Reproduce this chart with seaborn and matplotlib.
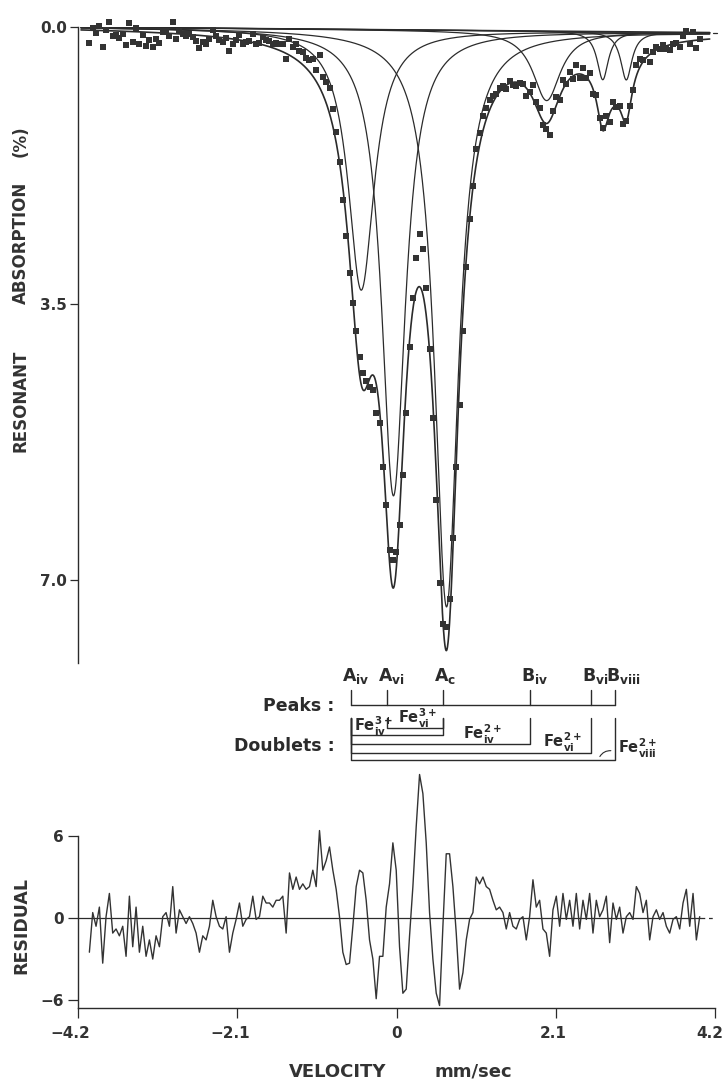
import numpy as np
import matplotlib
matplotlib.use("Agg")
import matplotlib.pyplot as plt
import matplotlib.transforms as mtransforms
import seaborn as sns

# ---------------------------------------------------------------------------
# Spectrum data
# ---------------------------------------------------------------------------
# Channel velocities (mm/s): first channel and channel spacing
channel_start = -4.05
channel_step = 0.04398

# Fit residual at each channel
residual = [
    -2.5, 0.4, -0.6, 0.8, -3.3, 0.1, 1.8, -1.1, -0.8, -1.3, -0.6,
    -2.8, 1.6, -2.1, 0.8, -2.5, -0.6, -2.8, -1.6, -3.0, -1.3,
    -2.1, 0.1, 0.4, -0.6, 2.3, -1.1, 0.6, 0.1, -0.4, 0.1,
    -0.4, -1.1, -2.5, -1.3, -1.6, -0.6, 1.3, 0.1, -0.6, -0.8,
    0.1, -2.5, -1.1, -0.1, 1.1, -0.6, -0.1, 0.1, 1.6, -0.1,
    0.1, 1.6, 1.1, 1.1, 0.8, 1.3, 1.3, 1.6, -1.1, 3.3,
    2.1, 3.0, 2.1, 2.5, 2.1, 2.3, 3.5, 2.3, 6.4, 3.5,
    4.2, 5.2, 3.5, 2.1, 0.1, -2.5, -3.4, -3.3, -0.6, 2.3,
    3.5, 3.3, 1.3, -1.6, -3.0, -5.9, -2.8, -2.8, 0.8, 2.5, 5.5,
    3.5, -2.1, -5.5, -5.2, -1.3, 2.3, 6.7, 10.5, 9.1, 5.5,
    0.4, -3.0, -5.5, -6.4, -0.6, 4.7, 4.7, 2.3, -1.1, -5.2,
    -4.0, -1.6, -0.1, 0.4, 3.0, 2.5, 3.0, 2.3, 2.1, 1.3,
    0.6, 0.8, 0.4, -0.8, 0.4, -0.6, -0.8, -0.1, 0.1, -1.6,
    0.1, 2.8, 0.8, 1.3, -0.8, -1.1, -2.8, 0.6, 1.6, -0.6,
    1.8, -0.1, 1.3, -0.6, 1.8, -0.8, 1.3, -0.1, 1.8, -1.1,
    1.3, 0.1, 0.6, 1.6, -1.8, 1.1, -0.1, 0.8, -1.1, 0.1,
    0.4, -0.1, 2.3, 1.8, 0.4, 1.3, -1.6, 0.1, 0.6, -0.1,
    0.4, -0.6, -1.1, -0.1, 0.1, -0.8, 1.1, 2.1, -0.6, 1.8,
    -1.6, 0.1,
]
# absorption (%) per residual unit
residual_scale = 0.063

# Fitted Lorentzian lines (drawn individually)
line_center = [-0.465, -0.04, 0.66, 1.98, 2.72, 3.03]
line_depth = [3.30, 5.90, 7.30, 0.88, 0.61, 0.61]
line_hwhm = [0.21, 0.19, 0.19, 0.22, 0.09, 0.09]
# Broad underlying absorption included in the total fit
broad_center = [2.85]
broad_depth = [0.50]
broad_hwhm = [0.30]
# Sloping baseline: absorption at the two ends of the velocity scale
baseline_ends = [0.0, 0.07]

# Peak / doublet assignment scheme
peak_labels = [r"$\mathbf{A}_{\mathbf{iv}}$", r"$\mathbf{A}_{\mathbf{vi}}$",
               r"$\mathbf{A}_{\mathbf{c}}$", r"$\mathbf{B}_{\mathbf{iv}}$",
               r"$\mathbf{B}_{\mathbf{vi}}$", r"$\mathbf{B}_{\mathbf{viii}}$"]
peak_velocity = [-0.594, -0.119, 0.607, 1.755, 2.559, 2.876]
doublet_labels = [r"$\mathbf{Fe}^{\mathbf{3+}}_{\mathbf{vi}}$",
                  r"$\mathbf{Fe}^{\mathbf{3+}}_{\mathbf{iv}}$",
                  r"$\mathbf{Fe}^{\mathbf{2+}}_{\mathbf{iv}}$",
                  r"$\mathbf{Fe}^{\mathbf{2+}}_{\mathbf{vi}}$",
                  r"$\mathbf{Fe}^{\mathbf{2+}}_{\mathbf{viii}}$"]
doublet_low = [1, 0, 0, 0, 0]     # index into peak_velocity
doublet_high = [2, 2, 3, 4, 5]

# Axis ticks
absorption_ticks = [0.0, 3.5, 7.0]
absorption_ticklabels = ["0.0", "3.5", "7.0"]
residual_ticks = [-6, 0, 6]
residual_ticklabels = ["\u22126", "0", "6"]
velocity_ticks = [-4.2, -2.1, 0.0, 2.1, 4.2]
velocity_ticklabels = ["\u22124.2", "\u22122.1", "0", "2.1", "4.2"]

# ---------------------------------------------------------------------------
sns.set_theme(style="white")
plt.rcParams["font.family"] = ["DejaVu Sans"]
plt.rcParams["mathtext.fontset"] = "dejavusans"
ink = "#2b2b2b"

W, H = 726, 1082
fig = plt.figure(figsize=(W / 100, H / 100), dpi=100)
fig.patch.set_facecolor("white")


def box(x0, y0, x1, y1):
    return [x0 / W, 1 - y1 / H, (x1 - x0) / W, (y1 - y0) / H]


def lorentz(v, c, d, g):
    return d / (1.0 + ((v - c) / g) ** 2)


def baseline(v):
    return baseline_ends[0] + (baseline_ends[1] - baseline_ends[0]) * (v + 4.2) / 8.4


ax = fig.add_axes(box(78, 27, 715, 663))
ax_s = fig.add_axes(box(78, 660, 715, 775))
ax_r = fig.add_axes(box(78, 760, 715, 1008))
for a in (ax, ax_s, ax_r):
    a.set_facecolor("none")

channel_v = channel_start + channel_step * np.arange(len(residual))
res = np.array(residual)

vv = np.linspace(-4.16, 4.13, 3000)
base = baseline(vv)
all_c = line_center + broad_center
all_d = line_depth + broad_depth
all_g = line_hwhm + broad_hwhm
total = base.copy()
for c, d, g in zip(all_c, all_d, all_g):
    total += lorentz(vv, c, d, g)

total_ch = baseline(channel_v)
for c, d, g in zip(all_c, all_d, all_g):
    total_ch += lorentz(channel_v, c, d, g)
observed = total_ch - residual_scale * res

# ---------------- absorption spectrum ----------------
sns.lineplot(x=vv, y=base, ax=ax, color=ink, linewidth=1.1, sort=False)
for c, d, g in zip(line_center, line_depth, line_hwhm):
    sns.lineplot(x=vv, y=base + lorentz(vv, c, d, g), ax=ax, color=ink,
                 linewidth=0.9, sort=False)
sns.lineplot(x=vv, y=total, ax=ax, color=ink, linewidth=1.2, sort=False)
sns.scatterplot(x=channel_v, y=observed, ax=ax, marker="s", s=15, color="#333333",
                edgecolor="#333333", linewidth=0, clip_on=False, zorder=5)
ax.plot([4.17, 4.23], [baseline(4.2), baseline(4.2)], color=ink, lw=0.9,
        clip_on=False)

ax.set_xlim(-4.2, 4.2)
ax.set_ylim(8.05, 0.0)
sns.despine(ax=ax, bottom=True)
ax.spines["left"].set_bounds(0.0, 8.05)
ax.spines["left"].set_color(ink)
ax.spines["left"].set_linewidth(1.0)
ax.set_xticks([])
ax.set_yticks(absorption_ticks)
ax.set_yticklabels(absorption_ticklabels, fontweight="bold", fontsize=11, color="#333333")
ax.tick_params(axis="y", direction="out", length=6, width=0.9, pad=2, color=ink, left=True)
ax.set_xlabel("")
ax.set_ylabel("")

# ---------------- peak / doublet scheme (pixel rows) ----------------
px = 1.0 / 75.8   # mm/s per pixel
ax_s.set_xlim(-4.2, 4.2)
ax_s.set_ylim(775, 660)
ax_s.axis("off")
lw_s = 1.0
ax_s.plot([peak_velocity[0], peak_velocity[-1]], [705, 705], color=ink, lw=lw_s)
for v, lab in zip(peak_velocity, peak_labels):
    ax_s.plot([v, v], [690, 705], color=ink, lw=lw_s)
    ax_s.text(v - 9 * px, 681, lab, fontsize=12.5, ha="left", va="baseline", color=ink)

rows = [728, 735, 744, 753, 760]
label_pos = [(398, 724), (355, 732), (463, 740), (543, 747), (618, 754)]
for lo, hi, row, lab, (lx, ly) in zip(doublet_low, doublet_high, rows,
                                      doublet_labels, label_pos):
    v0, v1 = peak_velocity[lo], peak_velocity[hi]
    ax_s.plot([v0, v0, v1, v1], [718, row, row, 718], color=ink, lw=lw_s)
    ax_s.text((lx - 397) * px, ly, lab, fontsize=10.5, ha="left", va="baseline",
              color=ink)
ax_s.annotate("", xy=((614 - 397) * px, 751), xytext=((599 - 397) * px, 759),
              arrowprops=dict(arrowstyle="-", connectionstyle="arc3,rad=-0.4",
                              lw=0.8, color=ink))
ax_s.text((335 - 397) * px, 711, "Peaks :", fontsize=12.5, fontweight="bold",
          ha="right", va="baseline", color=ink)
ax_s.text((335 - 397) * px, 751, "Doublets :", fontsize=12.5, fontweight="bold",
          ha="right", va="baseline", color=ink)

# ---------------- residual ----------------
ax_r.set_xlim(-4.2, 4.2)
ax_r.set_ylim(-6.58, 11.56)
ax_r.plot([-4.2, 4.02], [0, 0], color=ink, lw=0.9)
ax_r.plot([4.02, 4.2], [0, 0], color=ink, lw=0.9, ls=(0, (3, 3)))
sns.lineplot(x=channel_v, y=res, ax=ax_r, color="#333333", linewidth=1.0,
             sort=False, clip_on=False)
sns.despine(ax=ax_r)
ax_r.spines["left"].set_bounds(-6.58, 6)
for s in ("left", "bottom"):
    ax_r.spines[s].set_color(ink)
    ax_r.spines[s].set_linewidth(1.0)
ax_r.set_yticks(residual_ticks)
ax_r.set_yticklabels(residual_ticklabels, fontweight="bold", fontsize=11, color="#333333")
ax_r.set_xticks(velocity_ticks)
ax_r.set_xticklabels(velocity_ticklabels, fontweight="bold", fontsize=11, color="#333333")
ax_r.tick_params(axis="y", direction="out", length=7, width=0.9, pad=3, color=ink, left=True)
ax_r.tick_params(axis="x", direction="out", length=7, width=0.9, pad=6, color=ink, bottom=True)
# nudge the velocity labels as typeset
for lbl, dx in zip(ax_r.get_xticklabels(), [-8, -7, 0, -3, -5]):
    lbl.set_transform(lbl.get_transform()
                      + mtransforms.ScaledTranslation(dx / 100, 0, fig.dpi_scale_trans))
ax_r.set_xlabel("")
ax_r.set_ylabel("")

# ---------------- axis titles ----------------
title_kw = dict(rotation=90, ha="center", va="center", fontweight="bold",
                color="#333333")
fig.text(21 / W, 1 - 401 / H, "RESONANT", fontsize=12, **title_kw)
fig.text(21 / W, 1 - 243 / H, "ABSORPTION", fontsize=12, **title_kw)
fig.text(21 / W, 1 - 141 / H, "(%)", fontsize=12, **title_kw)
fig.text(21 / W, 1 - 926 / H, "RESIDUAL", fontsize=12.5, **title_kw)
fig.text(338 / W, 1 - 1072 / H, "VELOCITY", fontsize=13, fontweight="bold",
         ha="center", va="center", color="#333333")
fig.text(473 / W, 1 - 1072 / H, "mm/sec", fontsize=13, fontweight="bold",
         ha="center", va="center", color="#333333")

fig.savefig("out.png", dpi=100)
